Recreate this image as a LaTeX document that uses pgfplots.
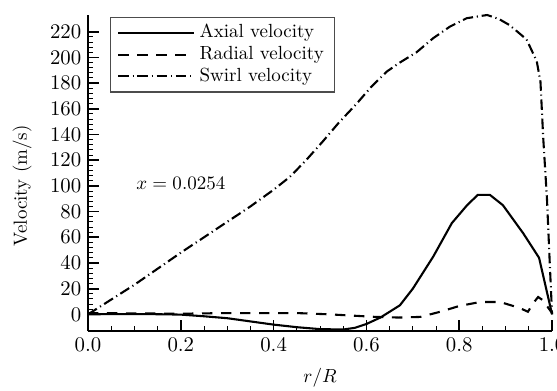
\documentclass[border=0pt]{standalone}
\usepackage{pgfplots}
\pgfplotsset{compat=1.18}
\usetikzlibrary{calc}
\begin{document}
\begin{tikzpicture}
\begin{axis}[
  name=ax,
  scale only axis,
  width=244.2pt, height=166.3pt,
  xmin=0, xmax=1, ymin=-13, ymax=233,
  axis lines=left,
  axis line style={-, line width=1.4pt},
  xtick={0,0.2,0.4,0.6,0.8,1.0},
  ytick={0,20,...,220},
  minor x tick num=3,
  minor y tick num=4,
  tick align=inside,
  major tick length=5.6pt,
  minor tick length=2.6pt,
  every major tick/.style={line width=0.9pt, black},
  every minor tick/.style={line width=0.5pt, black},
  tick label style={font=\fontsize{10.5}{12}\selectfont},
  xticklabel style={/pgf/number format/.cd, fixed, fixed zerofill, precision=1},
  every axis x label/.style={at={(axis description cs:0.5,0)}, yshift=-24.7pt, anchor=center},
  every axis y label/.style={at={(axis description cs:-0.142,0.46)}, rotate=90, anchor=center},
  xlabel={$r/R$},
  ylabel={Velocity (m/s)},
  clip=false,
  legend cell align=left,
  legend style={at={(0.0475,0.994)}, anchor=north west, draw=black!70, line width=0.6pt,
    inner xsep=3.5pt, inner ysep=2.5pt,
    nodes={inner xsep=2.2pt, inner ysep=0.8pt, text height=7.4pt, text depth=2.4pt}},
  legend image code/.code={\draw[#1] (0pt,0pt) -- (40pt,0pt);},
]
\addplot[black, line width=1.1pt] coordinates {
(0,0) (0.05,0.2) (0.1,0.2) (0.15,0.1) (0.2,-0.2) (0.25,-1.5) (0.3,-3) (0.35,-5.5)
(0.4,-8) (0.45,-10) (0.5,-11.5) (0.55,-11.8) (0.575,-10.5) (0.6,-7.5) (0.63,-2.5)
(0.672,7) (0.70,20) (0.744,45) (0.784,71) (0.817,85) (0.84,93) (0.866,93)
(0.894,85) (0.938,63) (0.972,44) (1.0,0)};
\addlegendentry{Axial velocity}
\addplot[black, line width=1.1pt, dash pattern=on 5.5pt off 4.5pt] coordinates {
(0,1) (0.2,0.5) (0.3,1) (0.45,1) (0.52,0) (0.57,-1) (0.62,-2) (0.67,-2.5)
(0.716,-2) (0.759,2) (0.80,6.5) (0.845,9.6) (0.888,9.6) (0.93,5) (0.948,2)
(0.96,9) (0.97,13.5) (0.98,11) (1.0,1)};
\addlegendentry{Radial velocity}
\addplot[black, line width=1.1pt, dash pattern=on 5.5pt off 2pt on 0.6pt off 2pt] coordinates {
(0,0) (0.1,23) (0.2,48) (0.3,72) (0.35,84) (0.4,97) (0.435,107) (0.47,120)
(0.507,135) (0.54,149) (0.579,164) (0.61,177) (0.644,189) (0.672,196)
(0.708,204) (0.744,215) (0.78,224) (0.816,230.5) (0.86,233) (0.885,230)
(0.909,225) (0.945,214) (0.967,197) (0.975,181) (0.981,137) (0.989,90)
(0.995,40) (1.0,0)};
\addlegendentry{Swirl velocity}
\node at (axis cs:0.2,102) {$x=0.0254$};
\end{axis}
\pgfresetboundingbox
\path[use as bounding box] ($(ax.south west)+(-46.3pt,-31.1pt)$) rectangle ($(ax.north east)+(2.6pt,7.9pt)$);
\end{tikzpicture}
\end{document}
